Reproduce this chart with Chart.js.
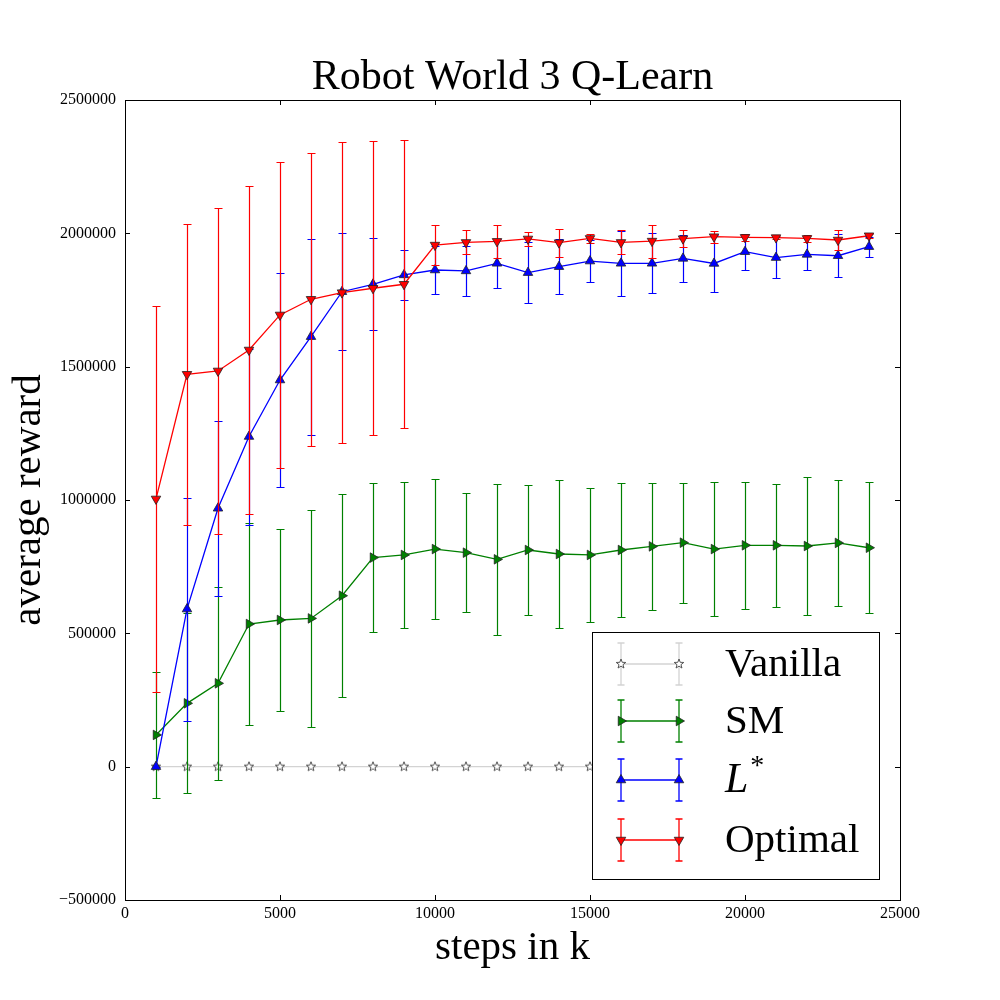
<!DOCTYPE html>
<html>
<head>
<meta charset="utf-8">
<script src="https://cdn.jsdelivr.net/npm/chart.js@4.4.0/dist/chart.umd.min.js"></script>
<style>
    html, body { margin: 0; padding: 0; background: #fff; }
    #wrap { width: 1000px; height: 1000px; }
</style>
</head>
<body>
<div id="wrap"><canvas id="chart" width="1000" height="1000"></canvas></div>
<script>
// x positions (steps in k)
const steps = [1000, 2000, 3000, 4000, 5000, 6000, 7000, 8000, 9000, 10000, 11000, 12000,
               13000, 14000, 15000, 16000, 17000, 18000, 19000, 20000, 21000, 22000, 23000, 24000];

// mean reward per series
const vanilla = [0, 0, 0, 0, 0, 0, 0, 0, 0, 0, 0, 0, 0, 0, 0, 0, 0, 0, 0, 0, 0, 0, 0, 0];
const sm = [119000, 237500, 312500, 535000, 550000, 556000, 641000, 784000, 794000, 816000, 802500, 777500,
            812500, 797500, 794000, 812500, 826000, 840000, 816000, 830000, 830000, 827500, 839000, 821000];
const lstar = [0, 591000, 969000, 1238000, 1450000, 1612500, 1781000, 1809000, 1844000, 1862500, 1859000, 1887500,
               1852600, 1875000, 1896000, 1887500, 1887500, 1906000, 1887000, 1931000, 1909000, 1921000, 1916000, 1950000];
const optimal = [1004000, 1471500, 1484000, 1562600, 1694000, 1752700, 1777600, 1794000, 1809000, 1956000, 1966000, 1970000,
                 1979000, 1965000, 1981000, 1966000, 1971000, 1980000, 1987500, 1985000, 1984000, 1981000, 1975000, 1991000];

// error bar half widths
const vanillaErr = [0, 0, 0, 0, 0, 0, 0, 0, 0, 0, 0, 0, 0, 0, 0, 0, 0, 0, 0, 0, 0, 0, 0, 0];
const smErr = [235000, 337000, 363000, 377000, 340000, 408000, 380000, 278000, 273000, 264000, 223000, 284000,
               245000, 277000, 250000, 252000, 238000, 225000, 250000, 238000, 230000, 257000, 237000, 245000];
const lstarErr = [0, 418000, 328000, 330000, 400000, 367000, 220000, 173000, 93000, 90000, 93000, 92000,
                  115000, 104000, 79000, 122000, 112000, 88000, 107000, 67000, 76000, 60000, 80000, 38000];
const optimalErr = [723000, 565000, 610000, 615000, 575000, 550000, 565000, 552000, 540000, 75000, 45000, 62000,
                    25000, 53000, 17000, 45000, 62000, 33000, 22000, 12000, 6000, 12000, 36000, 8000];

const seriesNames = ['Vanilla', 'SM', 'L*', 'Optimal'];
const xTicks = [0, 5000, 10000, 15000, 20000, 25000];
const yTicks = [-500000, 0, 500000, 1000000, 1500000, 2000000, 2500000];

const SERIF = '"Liberation Serif", "DejaVu Serif", serif';

// matplotlib style 5-point star marker
function makeStar() {
    const c = document.createElement('canvas');
    c.width = 14; c.height = 14;
    const g = c.getContext('2d');
    g.beginPath();
    for (let i = 0; i < 10; i++) {
        const r = i % 2 === 0 ? 5 : 2.1;
        const a = -Math.PI / 2 + i * Math.PI / 5;
        const px = 7 + r * Math.cos(a), py = 7 + r * Math.sin(a);
        if (i === 0) g.moveTo(px, py); else g.lineTo(px, py);
    }
    g.closePath();
    g.fillStyle = '#ffffff';
    g.fill();
    g.strokeStyle = '#444';
    g.lineWidth = 0.9;
    g.stroke();
    return c;
}
const starImg = makeStar();

function toPoints(ys) {
    return steps.map((s, i) => ({ x: s, y: ys[i] }));
}

const seriesStyle = [
    { color: '#d3d3d3', marker: 'star', rot: 0, err: vanillaErr, data: vanilla },
    { color: '#008000', marker: 'triangle', rot: 90, err: smErr, data: sm },
    { color: '#0000ff', marker: 'triangle', rot: 0, err: lstarErr, data: lstar },
    { color: '#ff0000', marker: 'triangle', rot: 180, err: optimalErr, data: optimal }
];

const datasets = seriesStyle.map((st, i) => ({
    label: seriesNames[i],
    data: toPoints(st.data),
    borderColor: st.color,
    backgroundColor: st.color,
    borderWidth: 1.3,
    pointStyle: st.marker === 'star' ? starImg : 'triangle',
    pointRotation: st.rot,
    pointRadius: 5.5,
    pointBorderColor: '#222',
    pointBorderWidth: 0.8,
    pointBackgroundColor: st.color,
    tension: 0,
    order: 4 - i
}));

function drawMarker(ctx, st, x, y) {
    if (st.marker === 'star') {
        ctx.drawImage(starImg, x - 7, y - 7);
        return;
    }
    const r = 5.5;
    const rad = st.rot * Math.PI / 180;
    ctx.beginPath();
    for (let k = 0; k < 3; k++) {
        const a = rad + k * 2 * Math.PI / 3;
        const px = x + Math.sin(a) * r, py = y - Math.cos(a) * r;
        if (k === 0) ctx.moveTo(px, py); else ctx.lineTo(px, py);
    }
    ctx.closePath();
    ctx.fillStyle = st.color;
    ctx.fill();
    ctx.strokeStyle = '#222';
    ctx.lineWidth = 0.8;
    ctx.stroke();
}

const errorBars = {
    id: 'errorBars',
    beforeDatasetDraw(chart, args) {
        const st = seriesStyle[args.index];
        const xs = chart.scales.x, ys = chart.scales.y;
        const ctx = chart.ctx;
        ctx.save();
        ctx.strokeStyle = st.color;
        ctx.lineWidth = 1.2;
        steps.forEach((s, i) => {
            const px = Math.round(xs.getPixelForValue(s)) + 0.5;
            const top = Math.round(ys.getPixelForValue(st.data[i] + st.err[i])) + 0.5;
            const bot = Math.round(ys.getPixelForValue(st.data[i] - st.err[i])) + 0.5;
            ctx.beginPath();
            ctx.moveTo(px, top); ctx.lineTo(px, bot);
            ctx.moveTo(px - 4, top); ctx.lineTo(px + 4, top);
            ctx.moveTo(px - 4, bot); ctx.lineTo(px + 4, bot);
            ctx.stroke();
        });
        ctx.restore();
    }
};

const frameAndTicks = {
    id: 'frameAndTicks',
    afterDraw(chart) {
        const { ctx, chartArea: a } = chart;
        const xs = chart.scales.x, ys = chart.scales.y;
        ctx.save();
        ctx.strokeStyle = '#000';
        ctx.lineWidth = 1;
        ctx.strokeRect(Math.round(a.left) + 0.5, Math.round(a.top) + 0.5,
                       Math.round(a.right - a.left), Math.round(a.bottom - a.top));
        ctx.beginPath();
        xTicks.forEach(v => {
            const px = Math.round(xs.getPixelForValue(v)) + 0.5;
            ctx.moveTo(px, a.bottom); ctx.lineTo(px, a.bottom - 5);
            ctx.moveTo(px, a.top); ctx.lineTo(px, a.top + 5);
        });
        yTicks.forEach(v => {
            const py = Math.round(ys.getPixelForValue(v)) + 0.5;
            ctx.moveTo(a.left, py); ctx.lineTo(a.left + 5, py);
            ctx.moveTo(a.right, py); ctx.lineTo(a.right - 5, py);
        });
        ctx.stroke();
        ctx.restore();
    }
};

const legendBox = {
    id: 'legendBox',
    afterDraw(chart) {
        const ctx = chart.ctx;
        const rows = [664, 721, 780, 840];
        ctx.save();
        ctx.fillStyle = '#fff';
        ctx.fillRect(592, 632, 287, 247);
        ctx.strokeStyle = '#000';
        ctx.lineWidth = 1;
        ctx.strokeRect(592.5, 632.5, 287, 247);
        seriesStyle.forEach((st, i) => {
            const y = rows[i];
            const x0 = 621, x1 = 679;
            ctx.strokeStyle = st.color;
            ctx.lineWidth = 1.3;
            ctx.beginPath();
            ctx.moveTo(x0, y); ctx.lineTo(x1, y);
            [x0, x1].forEach(x => {
                ctx.moveTo(x, y - 21); ctx.lineTo(x, y + 21);
                ctx.moveTo(x - 3.5, y - 21); ctx.lineTo(x + 3.5, y - 21);
                ctx.moveTo(x - 3.5, y + 21); ctx.lineTo(x + 3.5, y + 21);
            });
            ctx.stroke();
            drawMarker(ctx, st, x0, y);
            drawMarker(ctx, st, x1, y);
            ctx.fillStyle = '#000';
            ctx.textBaseline = 'middle';
            ctx.textAlign = 'left';
            if (seriesNames[i] === 'L*') {
                ctx.font = 'italic 42px ' + SERIF;
                ctx.fillText('L', 725, y + 1);
                const w = ctx.measureText('L').width;
                ctx.font = '28px ' + SERIF;
                ctx.fillText('*', 725 + w + 2, y - 13);
            } else {
                ctx.font = '41px ' + SERIF;
                ctx.fillText(seriesNames[i], 725, y + 1);
            }
        });
        ctx.restore();
    }
};

function fmt(v) {
    return v < 0 ? '\u2212' + String(-v) : String(v);
}

new Chart(document.getElementById('chart'), {
    type: 'line',
    data: { datasets },
    options: {
        responsive: false,
        devicePixelRatio: 1,
        animation: false,
        layout: { padding: { top: 0, right: 100, bottom: 0, left: 0 } },
        plugins: {
            legend: { display: false },
            tooltip: { enabled: false },
            title: {
                display: true,
                fullSize: false,
                text: 'Robot World 3 Q-Learn',
                color: '#000',
                font: { family: SERIF, size: 42, weight: 'normal', lineHeight: 1.0 },
                padding: { top: 57, bottom: 1 }
            }
        },
        scales: {
            x: {
                type: 'linear',
                min: 0, max: 25000,
                afterBuildTicks: s => { s.ticks = xTicks.map(v => ({ value: v })); },
                afterFit: s => { s.height = 100; },
                grid: { display: false, drawTicks: false },
                border: { display: false },
                ticks: {
                    color: '#000', padding: 4, maxRotation: 0,
                    font: { family: SERIF, size: 16 },
                    callback: v => fmt(v)
                },
                title: {
                    display: true, text: 'steps in k', color: '#000',
                    font: { family: SERIF, size: 41 },
                    padding: { top: 0, bottom: 27 }
                }
            },
            y: {
                type: 'linear',
                min: -500000, max: 2500000,
                afterBuildTicks: s => { s.ticks = yTicks.map(v => ({ value: v })); },
                afterFit: s => { s.width = 125; },
                grid: { display: false, drawTicks: false },
                border: { display: false },
                ticks: {
                    color: '#000', padding: 9,
                    font: { family: SERIF, size: 16 },
                    callback: v => fmt(v)
                },
                title: {
                    display: true, text: 'average reward', color: '#000',
                    font: { family: SERIF, size: 41 },
                    padding: { top: 5, bottom: 0 }
                }
            }
        }
    },
    plugins: [errorBars, frameAndTicks, legendBox]
});
</script>
</body>
</html>
